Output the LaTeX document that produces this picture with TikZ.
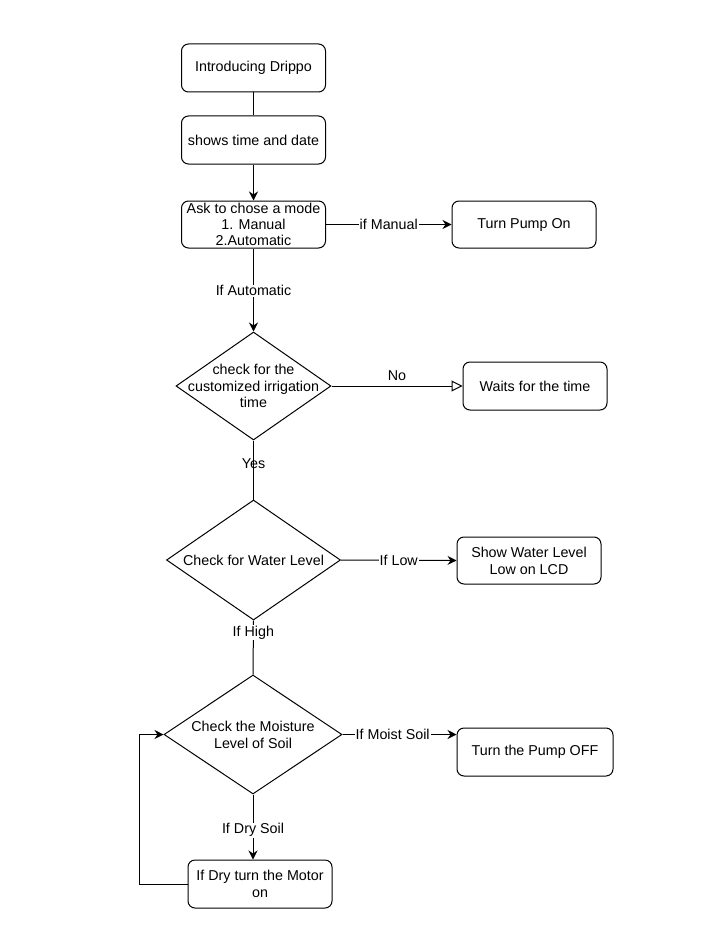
\documentclass[tikz,border=0pt]{standalone}
\usepackage{fontspec}
\setmainfont{Liberation Sans}
\usetikzlibrary{shapes.geometric,arrows.meta}
\begin{document}
\begin{tikzpicture}[x=1pt,y=-1pt,
  every node/.style={font=\fontsize{14.3}{16.8}\selectfont},
  box/.style={draw, rounded corners=7pt, fill=white, line width=1pt, minimum width=144pt, minimum height=48pt, align=center, inner sep=1pt},
  dia/.style={draw, shape=diamond, fill=white, line width=1pt, inner sep=0pt},
  txt/.style={align=center, inner sep=0pt},
  lbl/.style={fill=white, inner sep=1pt, align=center},
  conn/.style={line width=1pt},
  arr/.style={conn, -{Stealth[length=9pt,width=9pt,inset=3pt]}},
  oarr/.style={conn, -{Triangle[open,length=11pt,width=11pt,fill=white]}}]
\useasboundingbox (0,0) rectangle (727,947);

\node[box] (b1) at (253.5,68) {Introducing Drippo};
\node[box] (b2) at (253.5,140) {shows time and date};
\node[box, minimum height=47pt] (b3) at (253.5,224.5) {Ask to chose a mode\\[-1pt]1. Manual\\[-1pt]2.Automatic};
\node[box, minimum height=47pt] (pon) at (524,224.5) {Turn Pump On};

\node[dia, minimum width=155pt, minimum height=108pt] (d1) at (253.5,386) {};
\node[txt] (d1t) at (253.5,386) {check for the\\customized irrigation\\time};
\node[box] (wait) at (535,386) {Waits for the time};

\node[dia, minimum width=174pt, minimum height=120pt] (d2) at (253.5,560) {};
\node[txt] (d2t) at (253.5,560) {Check for Water Level};
\node[box, minimum height=47pt] (lcd) at (529,560.5) {Show Water Level\\Low on LCD};

\node[dia, minimum width=178pt, minimum height=119pt] (d3) at (253,734.5) {};
\node[txt] (d3t) at (253,734.5) {Check the Moisture\\Level of Soil};
\node[box, minimum width=156pt] (off) at (535,752) {Turn the Pump OFF};
\node[box] (motor) at (260,884) {If Dry turn the Motor\\on};

\coordinate (offin) at (off.west |- d3.east);
\coordinate (mtop) at (d3.south |- motor.north);
\coordinate (lp1) at (139,884);
\coordinate (lp2) at (139,734.5);

\draw[conn] (b1) -- (b2);
\draw[arr] (b2) -- (b3);
\draw[arr] (b3) -- node[lbl] (l1) {if Manual} (pon);
\draw[arr] (b3.south) -- node[lbl, pos=0.51] (l2) {If Automatic} (d1.north);
\draw[oarr] (d1.east) -- node[txt, above=5pt] (l3) {No} (wait.west);
\draw[conn] (d1.south) -- node[txt, pos=0.4] (l4) {Yes} (d2.north);
\draw[arr] (d2.east) -- node[lbl] (l5) {If Low} (lcd.west);
\draw[conn] (d2.south) -- node[lbl, pos=0.22] (l6) {If High} (d3.north);
\draw[arr] (d3.east) -- node[lbl, pos=0.44] (l7) {If Moist Soil} (offin);
\draw[arr] (d3.south) -- node[lbl, pos=0.55] (l8) {If Dry Soil} (mtop);
\draw[arr] (motor.west |- lp1) -- (lp1) -- (lp2) -- (d3.west);
\end{tikzpicture}
\end{document}
